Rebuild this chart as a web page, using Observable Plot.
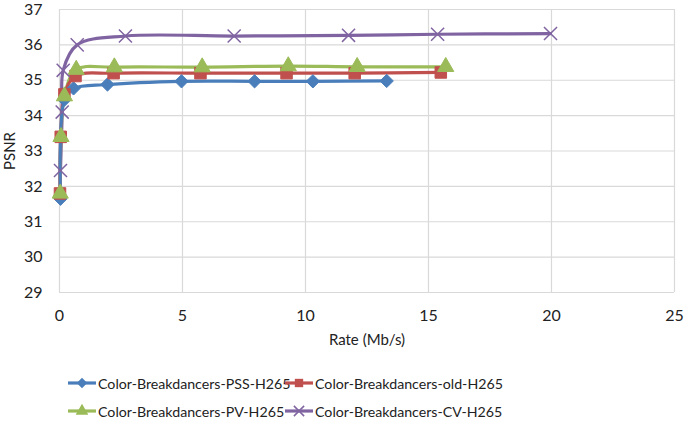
<!DOCTYPE html>
<html>
<head>
<meta charset="utf-8">
<script src="https://cdn.jsdelivr.net/npm/d3@7"></script>
<script src="https://cdn.jsdelivr.net/npm/@observablehq/plot@0.6"></script>
<style>
  body { margin: 0; background: #fff; font-family: Lato, "Open Sans", sans-serif; }
  #chart { width: 685px; }
  .legend { position: relative; height: 78px; font-family: Lato, sans-serif; font-size: 14.2px; color: #222; }
  .item { position: absolute; display: flex; align-items: center; white-space: nowrap; }
  .item svg { margin-right: 2px; }
</style>
</head>
<body>
<div id="chart"></div>
<script>
const seriesNames = ["Color-Breakdancers-PSS-H265", "Color-Breakdancers-old-H265", "Color-Breakdancers-PV-H265", "Color-Breakdancers-CV-H265"];
const seriesColors = ["#4a7ebb", "#c0504d", "#9bbb59", "#8064a2"];
const seriesSymbols = ["diamond2", "square", "triangle", "times"];

const pssRate = [0.04, 0.2, 0.57, 1.95, 4.96, 7.93, 10.3, 13.3];
const pssPsnr = [31.65, 34.45, 34.77, 34.88, 34.97, 34.97, 34.97, 34.98];
const oldRate = [0.02, 0.05, 0.2, 0.65, 2.2, 5.73, 9.23, 12.0, 15.5];
const oldPsnr = [31.8, 33.4, 34.6, 35.12, 35.2, 35.2, 35.2, 35.2, 35.22];
const pvRate = [0.03, 0.06, 0.2, 0.68, 2.23, 5.8, 9.3, 12.1, 15.7];
const pvPsnr = [31.8, 33.4, 34.55, 35.3, 35.37, 35.37, 35.4, 35.38, 35.38];
const cvRate = [0.04, 0.11, 0.15, 0.72, 2.68, 7.1, 11.75, 15.37, 19.96];
const cvPsnr = [32.45, 34.1, 35.28, 36.0, 36.25, 36.25, 36.27, 36.3, 36.32];

const xTicks = [0, 5, 10, 15, 20, 25];
const yTicks = [29, 30, 31, 32, 33, 34, 35, 36, 37];

const rates = [pssRate, oldRate, pvRate, cvRate];
const psnrs = [pssPsnr, oldPsnr, pvPsnr, cvPsnr];
const data = [];
seriesNames.forEach((name, i) => {
  rates[i].forEach((r, j) => data.push({series: name, rate: r, psnr: psnrs[i][j], idx: i}));
});

const grid = "#d9d9d9";

const marks = [
  Plot.gridX(xTicks, {stroke: grid, strokeOpacity: 1, strokeWidth: 1.2}),
  Plot.gridY(yTicks, {stroke: grid, strokeOpacity: 1, strokeWidth: 1.2}),
  Plot.axisX(xTicks, {tickSize: 0, tickPadding: 17, fontSize: 16, label: null, color: "#222"}),
  Plot.axisY(yTicks, {tickSize: 0, tickPadding: 17, fontSize: 16, label: null, color: "#222"}),
  Plot.axisX({anchor: "bottom", ticks: [], tickSize: 0, label: "Rate (Mb/s)", labelAnchor: "center", labelArrow: "none", labelOffset: 52, fontSize: 15, color: "#222"}),
  Plot.axisY({anchor: "left", ticks: [], tickSize: 0, label: "PSNR", labelAnchor: "center", labelArrow: "none", labelOffset: 55, fontSize: 15, color: "#222"})
];
[3, 2, 1, 0].forEach(i => {
  const d = data.filter(e => e.idx === i);
  marks.push(Plot.line(d, {x: "rate", y: "psnr", stroke: seriesColors[i], strokeWidth: 3.2, curve: "catmull-rom"}));
});
[0, 1, 2, 3].forEach(i => {
  const d = data.filter(e => e.idx === i);
  if (seriesSymbols[i] === "times") {
    marks.push(Plot.dot(d, {x: "rate", y: "psnr", symbol: "times", r: 6, stroke: seriesColors[i], strokeWidth: 1.5}));
  } else {
    marks.push(Plot.dot(d, {x: "rate", y: "psnr", symbol: seriesSymbols[i], r: seriesSymbols[i] === "square" ? 6.5 : 6, fill: seriesColors[i], stroke: seriesColors[i], strokeWidth: 1}));
  }
});

const plot = Plot.plot({
  width: 685,
  height: 351,
  marginTop: 9,
  marginBottom: 59,
  marginLeft: 59,
  marginRight: 11,
  style: {fontFamily: "Lato, sans-serif", fontSize: "16px", background: "#fff", color: "#222", overflow: "visible"},
  x: {domain: [0, 25]},
  y: {domain: [29, 37]},
  symbol: {domain: seriesNames, range: seriesSymbols},
  marks
});
document.getElementById("chart").appendChild(plot);

// Legend
const legend = document.createElement("div");
legend.className = "legend";
const positions = [[68, 32], [285, 32], [68, 60], [285, 60]];
seriesNames.forEach((name, i) => {
  const item = document.createElement("div");
  item.className = "item";
  item.style.left = positions[i][0] + "px";
  item.style.top = (positions[i][1] - 11) + "px";
  const sw = d3.create("svg").attr("width", 28).attr("height", 22);
  sw.append("line").attr("x1", 0).attr("x2", 28).attr("y1", 11).attr("y2", 11)
    .attr("stroke", seriesColors[i]).attr("stroke-width", 3.2);
  const sym = d3.symbol().type(
    seriesSymbols[i] === "diamond2" ? d3.symbolDiamond2 :
    seriesSymbols[i] === "square" ? d3.symbolSquare :
    seriesSymbols[i] === "triangle" ? d3.symbolTriangle : d3.symbolTimes
  ).size(70);
  const p = sw.append("path").attr("d", sym()).attr("transform", "translate(14,11)");
  if (seriesSymbols[i] === "times") p.attr("fill", "none").attr("stroke", seriesColors[i]).attr("stroke-width", 1.5);
  else p.attr("fill", seriesColors[i]);
  item.appendChild(sw.node());
  const t = document.createElement("span");
  t.textContent = name;
  item.appendChild(t);
  legend.appendChild(item);
});
document.getElementById("chart").appendChild(legend);
</script>
</body>
</html>
